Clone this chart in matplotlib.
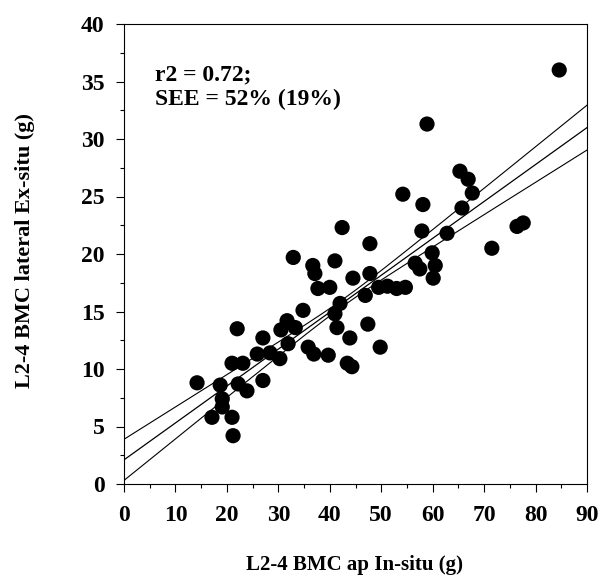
import numpy as np
import matplotlib
matplotlib.use('Agg')
import matplotlib.pyplot as plt
from matplotlib.ticker import MultipleLocator

plt.rcParams['font.family'] = ['Liberation Serif', 'DejaVu Serif']
plt.rcParams['font.weight'] = 'bold'

# BMC in-situ (x) vs ex-situ (y)
bmc_insitu = [84.6, 58.9, 65.3, 66.9, 67.7, 65.7, 54.2, 58.1, 57.9, 62.8,
              76.4, 77.6, 71.5, 59.9, 56.6, 57.5, 60.5, 60.1, 49.5, 51.2,
              53.0, 54.7, 42.4, 32.9, 36.7, 37.1, 41.0, 47.8, 37.7, 40.0,
              44.5, 47.8, 46.9, 42.0, 41.0, 34.8, 31.7, 41.4, 43.9, 47.4,
              49.8, 35.8, 36.9, 39.7, 43.4, 44.3, 31.9, 30.3, 33.3, 30.5,
              22.0, 27.0, 25.9, 28.4, 21.0, 23.1, 14.2, 27.0, 18.7, 22.2,
              23.9, 19.1, 19.1, 17.1, 21.0, 21.2]
bmc_exsitu = [36.0, 31.3, 27.2, 26.5, 25.3, 24.0, 25.2, 24.3, 22.0, 21.8,
              22.4, 22.7, 20.5, 20.1, 19.2, 18.7, 19.0, 17.9, 17.1, 17.2,
              17.0, 17.1, 22.3, 19.7, 19.0, 18.3, 19.4, 20.9, 17.0, 17.1,
              17.9, 18.3, 16.4, 15.7, 14.8, 15.1, 14.2, 13.6, 12.7, 13.9,
              11.9, 11.9, 11.3, 11.2, 10.5, 10.2, 12.2, 10.9, 13.6, 13.4,
              13.5, 12.7, 11.3, 11.4, 10.5, 10.5, 8.8, 9.0, 8.6, 8.7,
              8.1, 7.4, 6.7, 5.8, 5.8, 4.2]

# regression line and its confidence band
intercept = 2.1
slope = 0.321
band_min = 0.3     # half width at the centre of the data
band_grow = 0.041  # growth of half width away from the centre
x_centre = 43.0

annot_r2 = 'r2 = 0.72;'
annot_see = 'SEE = 52% (19%)'

fig = plt.figure(figsize=(6.01, 5.79), dpi=100)
ax = fig.add_axes([124/601, 1-484/579, 463/601, 460/579])

ax.scatter(bmc_insitu, bmc_exsitu, s=120, c='black', edgecolors='none', zorder=3)

xl = np.linspace(0, 90, 200)
yl = intercept + slope*xl
hw = np.sqrt(band_min**2 + band_grow**2*(xl-x_centre)**2)
ax.plot(xl, yl, color='black', lw=0.9, zorder=2)
ax.plot(xl, yl+hw, color='black', lw=0.8, zorder=2)
ax.plot(xl, yl-hw, color='black', lw=0.8, zorder=2)

ax.set_xlim(0, 90)
ax.set_ylim(0, 40)
ax.xaxis.set_major_locator(MultipleLocator(10))
ax.xaxis.set_minor_locator(MultipleLocator(5))
ax.yaxis.set_major_locator(MultipleLocator(5))
ax.yaxis.set_minor_locator(MultipleLocator(2.5))
ax.tick_params(which='major', direction='out', length=6, width=0.8, labelsize=17)
ax.tick_params(which='minor', direction='out', length=3, width=0.8)
ax.tick_params(axis='x', which='major', pad=9)
ax.tick_params(axis='y', which='major', pad=8)
for sp in ax.spines.values():
    sp.set_linewidth(0.8)

ax.text(0.067, 0.889, annot_r2, transform=ax.transAxes, fontsize=17, va='center', ha='left')
ax.text(0.067, 0.835, annot_see, transform=ax.transAxes, fontsize=17, va='center', ha='left')

fig.text(355/601, 1-565/579, 'L2-4 BMC ap In-situ (g)', fontsize=15, ha='center', va='center')
fig.text(25/601, 1-250/579, 'L2-4 BMC lateral Ex-situ (g)', fontsize=16,
         ha='center', va='center', rotation=90)

fig.savefig('out.png', dpi=100)
